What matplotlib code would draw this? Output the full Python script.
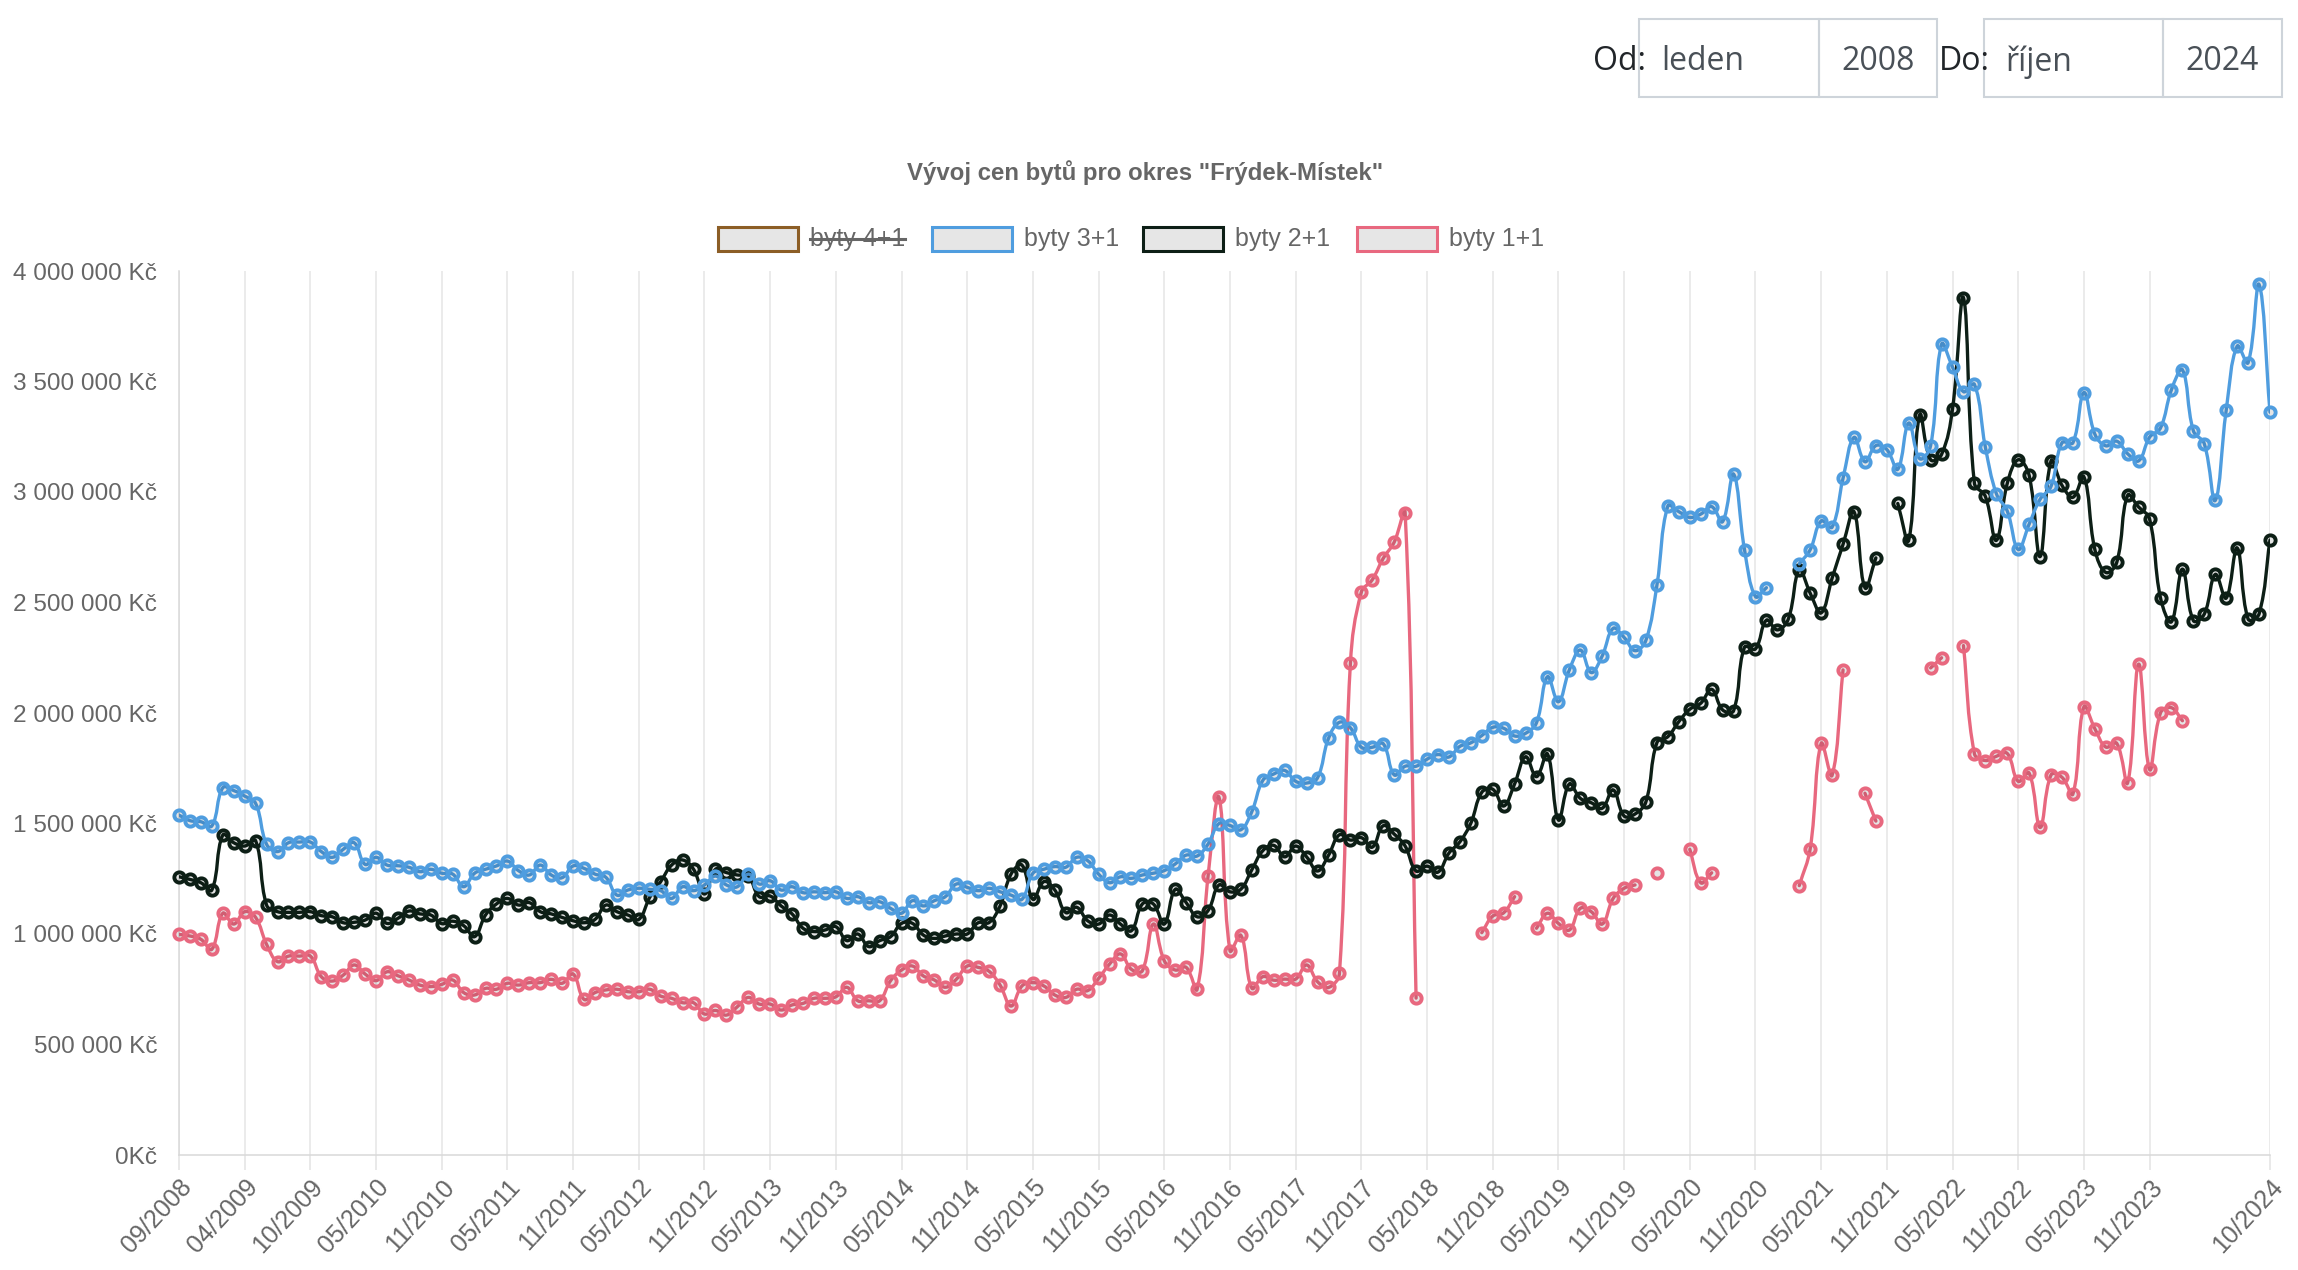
import numpy as np
import pandas as pd
import matplotlib
matplotlib.use("Agg")
import matplotlib.pyplot as plt
from matplotlib.path import Path
from matplotlib.patches import PathPatch, Rectangle
from matplotlib.lines import Line2D

plt.rcParams['font.family'] = ['Liberation Sans', 'DejaVu Sans']

# Monthly labels 09/2008 - 10/2024 (two months are missing in the source data)
months = pd.period_range("2008-09", "2024-10", freq="M")
months = [m for m in months if str(m) not in ("2009-01", "2010-01")]
labels = [m.strftime("%m/%Y") for m in months]

# Average prices in thousands of Kč, None = no data for that month
byty_3_1 = [
    1538, 1513, 1508, 1489, 1662, 1649, 1624, 1591, 1406, 1373, 1413, 1416,
    1416, 1373, 1347, 1383, 1413, 1315, 1347, 1312, 1309, 1302, 1282, 1293,
    1275, 1271, 1214, 1275, 1293, 1308, 1330, 1287, 1267, 1312, 1267, 1255,
    1308, 1297, 1271, 1256, 1176, 1199, 1207, 1202, 1196, 1161, 1214, 1196,
    1222, 1262, 1222, 1214, 1271, 1226, 1241, 1199, 1214, 1187, 1191, 1187,
    1191, 1161, 1169, 1142, 1146, 1116, 1094, 1151, 1127, 1151, 1169, 1226,
    1211, 1196, 1207, 1191, 1176, 1157, 1275, 1293, 1305, 1302, 1347, 1332,
    1271, 1232, 1259, 1252, 1267, 1275, 1287, 1317, 1357, 1353, 1407, 1500,
    1491, 1472, 1554, 1695, 1724, 1740, 1691, 1683, 1707, 1885, 1958, 1933,
    1845, 1845, 1861, 1720, 1759, 1759, 1791, 1812, 1801, 1849, 1865, 1898,
    1935, 1931, 1896, 1908, 1956, 2164, 2051, 2195, 2285, 2183, 2258, 2383,
    2342, 2282, 2330, 2579, 2937, 2911, 2885, 2900, 2934, 2866, 3081, 2739,
    2527, 2567, None, None, 2675, 2739, 2869, 2841, 3062, 3247, 3137, 3210,
    3192, 3103, 3312, 3151, 3210, 3668, 3565, 3454, 3487, 3203, 2993, 2914,
    2740, 2855, 2967, 3026, 3223, 3223, 3450, 3262, 3209, 3230, 3173, 3141,
    3248, 3290, 3463, 3553, 3277, 3218, 2962, 3370, 3660, 3585, 3939, 3361,
]
byty_2_1 = [
    1259, 1247, 1232, 1199, 1448, 1413, 1398, 1422, 1131, 1101, 1098, 1098,
    1101, 1083, 1078, 1051, 1053, 1063, 1094, 1048, 1071, 1104, 1091, 1086,
    1047, 1058, 1038, 988, 1086, 1136, 1161, 1131, 1142, 1101, 1091, 1075,
    1060, 1051, 1066, 1131, 1101, 1086, 1066, 1166, 1237, 1312, 1335, 1293,
    1181, 1293, 1278, 1267, 1262, 1169, 1172, 1127, 1091, 1026, 1011, 1018,
    1033, 970, 1000, 943, 970, 988, 1048, 1048, 995, 980, 991, 1000,
    1000, 1051, 1052, 1127, 1271, 1312, 1157, 1237, 1199, 1097, 1121, 1060,
    1045, 1086, 1045, 1015, 1136, 1136, 1045, 1202, 1142, 1078, 1106, 1222,
    1191, 1203, 1291, 1377, 1401, 1349, 1398, 1349, 1285, 1356, 1449, 1425,
    1436, 1393, 1490, 1452, 1398, 1285, 1307, 1280, 1366, 1417, 1501, 1641,
    1655, 1579, 1679, 1802, 1712, 1815, 1516, 1679, 1614, 1594, 1569, 1652,
    1534, 1543, 1599, 1866, 1893, 1961, 2017, 2044, 2107, 2014, 2010, 2298,
    2290, 2420, 2376, 2425, 2647, 2542, 2453, 2610, 2763, 2911, 2567, 2702,
    None, 2948, 2782, 3349, 3146, 3170, 3376, 3879, 3040, 2980, 2781, 3039,
    3146, 3075, 2708, 3141, 3030, 2976, 3069, 2740, 2636, 2681, 2985, 2932,
    2878, 2520, 2413, 2651, 2418, 2448, 2627, 2520, 2747, 2425, 2448, 2783,
]
byty_1_1 = [
    998, 991, 976, 931, 1094, 1045, 1101, 1075, 953, 875, 900, 900,
    900, 807, 787, 814, 860, 819, 789, 829, 811, 792, 769, 762,
    772, 792, 735, 724, 754, 750, 777, 769, 780, 780, 795, 777,
    819, 704, 735, 747, 750, 739, 739, 750, 719, 709, 689, 689,
    638, 654, 633, 671, 713, 683, 683, 656, 679, 686, 709, 709,
    716, 759, 698, 698, 698, 789, 837, 855, 810, 792, 759, 795,
    855, 849, 831, 769, 674, 765, 780, 765, 724, 713, 750, 744,
    799, 864, 910, 840, 834, 1045, 879, 837, 849, 750, 1262, 1618,
    925, 994, 755, 807, 791, 796, 796, 860, 784, 758, 823, 2224,
    2547, 2603, 2700, 2773, 2905, 710, None, None, None, None, None, 1006,
    1081, 1096, 1169, None, 1026, 1094, 1048, 1018, 1116, 1101, 1045, 1161,
    1207, 1222, None, 1277, None, None, 1383, 1232, 1277, None, None, None,
    None, None, None, None, 1219, 1386, 1862, 1718, 2195, None, 1637, 1511,
    None, None, None, None, 2204, 2250, None, 2305, 1816, 1785, 1804, 1817,
    1691, 1728, 1482, 1720, 1709, 1634, 2028, 1929, 1846, 1863, 1685, 2221,
    1745, 2001, 2024, 1965, None, None, None, None, None, None, None, None,
]

series = [
    # label, values, colour, hidden
    ("byty 4+1", None, "#8c5e26", True),
    ("byty 3+1", byty_3_1, "#4f9ddf", False),
    ("byty 2+1", byty_2_1, "#0d1f16", False),
    ("byty 1+1", byty_1_1, "#e8687f", False),
]

W, H = 2298, 1270
fig = plt.figure(figsize=(W / 100, H / 100), dpi=100)
ax = fig.add_axes([179 / W, 1 - 1155 / H, (2270 - 179) / W, (1155 - 271) / H])

n = len(labels)
PX_X = 2091 / (n - 1)   # screen px per month
PX_Y = 884 / 4000       # screen px per thousand Kč


def spline_path(x, y, t=0.4):
    # bezier curve like Chart.js (tension 0.4), computed in screen units
    px, py = x * PX_X, y * PX_Y
    m = len(px)
    cps = []
    for k in range(m):
        a, c = max(k - 1, 0), min(k + 1, m - 1)
        d01 = np.hypot(px[k] - px[a], py[k] - py[a])
        d12 = np.hypot(px[c] - px[k], py[c] - py[k])
        tot = d01 + d12
        s01 = d01 / tot if tot else 0
        s12 = d12 / tot if tot else 0
        dx, dy = px[c] - px[a], py[c] - py[a]
        cps.append(((px[k] - t * s01 * dx, py[k] - t * s01 * dy),
                    (px[k] + t * s12 * dx, py[k] + t * s12 * dy)))
    verts = [(px[0], py[0])]
    codes = [Path.MOVETO]
    for k in range(m - 1):
        verts += [cps[k][1], cps[k + 1][0], (px[k + 1], py[k + 1])]
        codes += [Path.CURVE4] * 3
    verts = np.array(verts)
    verts[:, 0] /= PX_X
    verts[:, 1] /= PX_Y
    return Path(verts, codes)


# first dataset is drawn on top (Chart.js order)
for z, (name, vals, col, hidden) in enumerate(series):
    if hidden:
        continue
    zo = 10 - z
    v = np.array([np.nan if a is None else a for a in vals], dtype=float)
    idx = np.arange(n)
    ok = ~np.isnan(v)
    # split into runs without gaps
    runs = np.split(idx[ok], np.where(np.diff(idx[ok]) > 1)[0] + 1)
    for r in runs:
        if len(r) > 1:
            ax.add_patch(PathPatch(spline_path(r.astype(float), v[r]), fill=False,
                                   edgecolor=col, lw=2.4, zorder=zo, capstyle='round',
                                   joinstyle='round'))
    ax.plot(idx[ok], v[ok], ls='none', marker='o', ms=7.4, mew=2.8, mec=col,
            mfc=(0, 0, 0, 0.1), zorder=zo + 0.5, clip_on=False)

ax.set_xlim(0, n - 1)
ax.set_ylim(0, 4000)

tick_idx = list(range(0, 181, 6)) + [n - 1]
ax.set_xticks(tick_idx)
ax.set_xticklabels([labels[i] for i in tick_idx], rotation=47, ha='right', va='top',
                   rotation_mode='anchor', fontsize=18, color='#666666')
ax.tick_params(axis='x', length=10.8, width=1.1, color='#e3e3e3', pad=3.5)
ax.grid(axis='x', color='#e6e6e6', lw=1.1)
ax.set_axisbelow(True)

yt = np.arange(0, 4001, 500)
ax.set_yticks(yt)
ax.set_yticklabels(["0Kč" if t == 0 else f"{t * 1000:,.0f}".replace(",", " ") + " Kč" for t in yt],
                   fontsize=17.6, color='#666666')
ax.tick_params(axis='y', length=0, pad=15.8)

for s in ('top', 'right'):
    ax.spines[s].set_visible(False)
for s in ('left', 'bottom'):
    ax.spines[s].set_color('#d9d9d9')
    ax.spines[s].set_linewidth(1.1)

# title
fig.text(1145 / W, 1 - 173 / H, 'Vývoj cen bytů pro okres "Frýdek-Místek"', ha='center',
         va='center', fontsize=17.3, fontweight='bold', color='#666666')

# legend
leg_x = [718, 932, 1143, 1357]
leg_y = 239
renderer = fig.canvas.get_renderer()
for (name, vals, col, hidden), x0 in zip(series, leg_x):
    fig.add_artist(Rectangle((x0 / W, 1 - (leg_y + 12) / H), 80 / W, 24 / H,
                             transform=fig.transFigure, facecolor='#e6e6e6',
                             edgecolor=col, lw=2.2))
    t = fig.text((x0 + 92) / W, 1 - leg_y / H, name, ha='left', va='center',
                 fontsize=18, color='#666666')
    if hidden:
        bb = t.get_window_extent(renderer).transformed(fig.transFigure.inverted())
        ym = (bb.y0 + bb.y1) / 2
        fig.add_artist(Line2D([bb.x0, bb.x1], [ym, ym], transform=fig.transFigure,
                              color='#666666', lw=2.2))

# date range selector in the top right corner
boxes = [(1639, 1819, "leden"), (1819, 1937, "2008"), (1984, 2163, "říjen"), (2163, 2282, "2024")]
for x0, x1, txt in boxes:
    fig.add_artist(Rectangle((x0 / W, 1 - 97 / H), (x1 - x0) / W, 78 / H,
                             transform=fig.transFigure, fill=False, edgecolor='#ced4da', lw=1.5))
    fig.text((x0 + 22) / W, 1 - 62 / H, txt, ha='left', va='center', fontsize=23,
             family='Open Sans', color='#495057')
fig.text(1593 / W, 1 - 62 / H, "Od:", ha='left', va='center', fontsize=23,
         family='Open Sans', color='#212529')
fig.text(1939 / W, 1 - 62 / H, "Do:", ha='left', va='center', fontsize=23,
         family='Open Sans', color='#212529')

fig.savefig("out.png", dpi=100)
